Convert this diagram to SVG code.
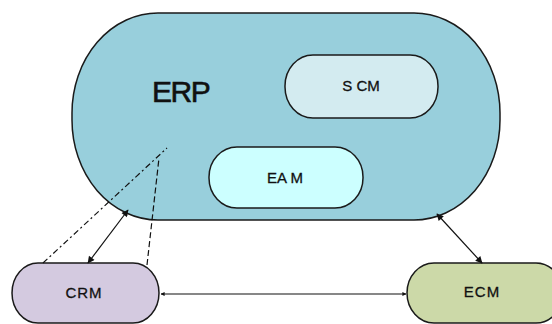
<svg xmlns="http://www.w3.org/2000/svg" width="552" height="324" viewBox="0 0 552 324">
<style>
.box{stroke:#1a1a1a;stroke-width:1.5}
.lbl{font-family:"Liberation Sans",Arial,sans-serif;font-size:15px;fill:#111;stroke:#111;stroke-width:0.3;text-anchor:middle}
.ln{stroke:#111;stroke-width:1.2;fill:none}
</style>
<defs>
<marker id="ah" viewBox="0 0 10 10" refX="9" refY="5" markerWidth="9" markerHeight="7" markerUnits="userSpaceOnUse" orient="auto-start-reverse">
<path d="M0,0 L10,5 L0,10 z" fill="#111"/>
</marker>
<marker id="sm" viewBox="0 0 10 10" refX="9" refY="5" markerWidth="4" markerHeight="4" markerUnits="userSpaceOnUse" orient="auto-start-reverse">
<path d="M0,0 L10,5 L0,10 z" fill="#111"/>
</marker>
</defs>
<rect width="552" height="324" fill="#fff"/>
<g id="erp">
<rect class="box" x="72" y="13" width="428" height="207" rx="86" ry="100" fill="#98CFDC"/>
<text x="152" y="102" font-family="Liberation Sans,Arial,sans-serif" font-size="30" letter-spacing="-1.5" fill="#111" stroke="#111" stroke-width="0.6">ERP</text>
</g>
<g id="scm">
<rect class="box" x="285" y="55" width="153" height="63" rx="28" ry="31" fill="#D3EBF0"/>
<text class="lbl" x="361" y="91">S CM</text>
</g>
<g id="eam">
<rect class="box" x="209" y="147" width="154" height="61" rx="28" ry="30" fill="#CCFFFF"/>
<text class="lbl" x="285" y="183">EA M</text>
</g>
<g id="crm">
<rect class="box" x="12" y="263" width="147" height="60" rx="26" ry="30" fill="#D4CAE0"/>
<text class="lbl" x="84" y="298" font-size="16" letter-spacing="1">CRM</text>
</g>
<g id="ecm">
<rect class="box" x="407" y="263" width="156" height="60" rx="27" ry="30" fill="#CCD9A8"/>
<text class="lbl" x="482" y="297" font-size="16" letter-spacing="1">ECM</text>
</g>
<g id="connectors">
<line class="ln" x1="43" y1="263" x2="167" y2="148" stroke-dasharray="6 3 2 3"/>
<line class="ln" x1="147" y1="265" x2="159" y2="158" stroke-dasharray="6 3"/>
<line class="ln" x1="88" y1="263" x2="128" y2="210" marker-start="url(#ah)" marker-end="url(#ah)"/>
<line class="ln" x1="437" y1="214" x2="482" y2="263" marker-start="url(#ah)" marker-end="url(#ah)"/>
<line class="ln" x1="161" y1="294" x2="406" y2="294" marker-start="url(#sm)" marker-end="url(#sm)"/>
</g>
</svg>
